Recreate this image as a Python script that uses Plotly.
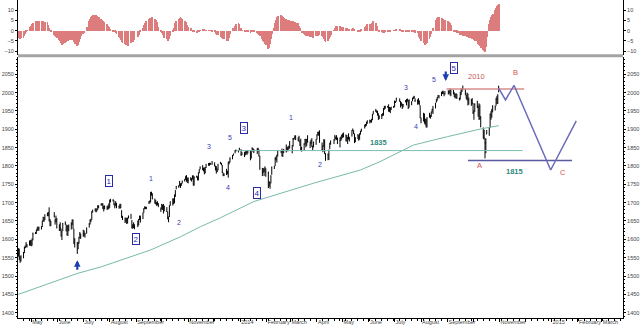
import pandas as pd
import plotly.graph_objects as go

# ---------------- data ----------------
START = "2013-04-16"
END = "2014-10-31"
HOLIDAYS = ["2013-05-27", "2013-07-04", "2013-09-02", "2013-11-28", "2013-12-25",
            "2014-01-01", "2014-01-20", "2014-02-17", "2014-04-18", "2014-05-26",
            "2014-07-04", "2014-09-01"]

CLOSE = [
    1574.6, 1552.0, 1541.6, 1555.3, 1562.5, 1578.8, 1578.8, 1585.2, 1582.2, 1593.6, 1597.6,
    1582.7, 1597.6, 1614.4, 1617.5, 1626.0, 1632.7, 1626.7, 1633.7, 1633.8, 1650.3, 1658.8, 1650.5, 1667.5, 1666.3, 1669.2, 1655.4, 1650.5, 1649.6, 1660.1, 1648.4, 1654.4, 1630.7,
    1640.4, 1631.4, 1608.9, 1622.6, 1643.4, 1642.8, 1626.1, 1612.5, 1636.4, 1626.7, 1639.0, 1651.8, 1628.9, 1588.2, 1592.4, 1573.1, 1588.0, 1603.3, 1613.2, 1606.3,
    1614.1, 1614.1, 1615.4, 1631.9, 1640.5, 1652.3, 1652.6, 1675.0, 1680.2, 1682.5, 1676.3, 1680.9, 1689.4, 1692.1, 1695.5, 1692.4, 1685.9, 1690.3, 1691.7, 1685.3, 1686.0, 1685.7,
    1706.9, 1709.7, 1707.1, 1697.4, 1690.9, 1697.5, 1691.4, 1689.5, 1694.2, 1685.4, 1661.3, 1655.8, 1646.1, 1652.4, 1642.8, 1657.0, 1663.5, 1656.8, 1630.5, 1635.0, 1638.2, 1633.0,
    1639.8, 1653.1, 1655.1, 1655.2, 1671.7, 1684.0, 1689.1, 1683.4, 1688.0, 1697.6, 1704.8, 1725.5, 1722.3, 1709.9, 1701.8, 1697.4, 1692.8, 1698.7, 1691.8, 1681.6,
    1695.0, 1693.9, 1678.7, 1690.5, 1676.1, 1655.5, 1656.4, 1692.6, 1703.2, 1710.1, 1698.1, 1721.5, 1733.2, 1744.5, 1744.7, 1754.7, 1746.4, 1752.1, 1759.8, 1762.1, 1772.0, 1763.3, 1756.5,
    1761.6, 1767.9, 1763.0, 1770.5, 1747.2, 1770.6, 1771.9, 1767.7, 1782.0, 1790.6, 1798.2, 1791.5, 1787.9, 1781.4, 1795.9, 1804.8, 1802.5, 1802.8, 1807.2, 1805.8,
    1800.9, 1795.2, 1792.8, 1785.0, 1805.1, 1808.4, 1802.6, 1782.2, 1775.5, 1775.3, 1786.5, 1781.0, 1810.7, 1809.6, 1818.3, 1828.0, 1833.3, 1842.0, 1841.4, 1841.1, 1848.4,
    1832.0, 1831.4, 1826.8, 1837.9, 1837.5, 1838.1, 1842.4, 1819.2, 1838.9, 1848.4, 1845.9, 1838.7, 1843.8, 1844.9, 1828.5, 1790.3, 1781.6, 1792.5, 1774.2, 1794.2, 1782.6,
    1741.9, 1755.2, 1751.6, 1773.4, 1797.0, 1799.8, 1819.3, 1819.3, 1829.8, 1838.6, 1840.8, 1828.8, 1839.8, 1836.3, 1847.6, 1845.1, 1845.2, 1854.3, 1859.5,
    1845.7, 1873.9, 1873.8, 1877.0, 1878.0, 1877.2, 1867.6, 1868.2, 1846.3, 1841.1, 1858.8, 1872.3, 1860.8, 1872.0, 1866.5, 1857.4, 1865.6, 1852.6, 1849.0, 1857.6, 1872.3,
    1885.5, 1890.9, 1888.8, 1865.1, 1845.0, 1852.0, 1872.2, 1833.1, 1815.7, 1830.6, 1843.0, 1862.3, 1864.9, 1871.9, 1879.6, 1875.4, 1878.6, 1863.4, 1869.4, 1878.3, 1884.0,
    1883.7, 1881.1, 1884.7, 1867.7, 1878.2, 1875.6, 1878.5, 1896.7, 1897.5, 1888.5, 1870.9, 1877.9, 1885.1, 1872.8, 1888.0, 1892.5, 1900.5, 1911.9, 1909.8, 1920.0, 1923.6,
    1925.0, 1924.2, 1927.9, 1940.5, 1949.4, 1951.3, 1950.8, 1943.9, 1930.1, 1936.2, 1937.8, 1942.0, 1957.0, 1959.5, 1962.9, 1962.6, 1950.0, 1959.5, 1957.2, 1961.0, 1960.2,
    1973.3, 1974.6, 1985.4, 1977.7, 1963.7, 1972.8, 1964.7, 1967.6, 1977.1, 1973.3, 1981.6, 1958.1, 1978.2, 1973.6, 1983.5, 1987.0, 1988.0, 1978.3, 1978.9, 1970.0, 1970.1, 1930.7,
    1925.2, 1939.0, 1920.2, 1920.2, 1909.6, 1931.6, 1936.9, 1933.8, 1946.7, 1955.2, 1955.1, 1971.7, 1981.6, 1986.5, 1992.4, 1988.4, 1997.9, 2000.0, 2000.1, 1996.7, 2003.4,
    2002.3, 2000.7, 1997.7, 2007.7, 2001.5, 1988.4, 1995.7, 1997.5, 1985.5, 1984.1, 1999.0, 2001.6, 2011.4, 2010.4, 1994.3, 1982.8, 1998.3, 1966.0, 1982.9, 1977.8, 1972.3,
    1946.2, 1946.2, 1967.9, 1964.8, 1935.1, 1968.9, 1928.2, 1906.1, 1874.7, 1877.7, 1862.5, 1862.8, 1886.8, 1904.0, 1941.3, 1927.1, 1950.8, 1964.6, 1961.6, 1985.1, 1982.3, 1994.7, 2018.1,
]

HIGH = [
    1575.3, 1574.6, 1554.4, 1555.9, 1565.6, 1579.6, 1583.0, 1592.6, 1586.5, 1596.8, 1597.6,
    1597.6, 1602.6, 1618.5, 1619.8, 1626.0, 1632.8, 1635.0, 1633.7, 1636.0, 1651.1, 1661.5, 1660.5, 1667.5, 1672.8, 1674.9, 1687.2, 1655.5, 1649.8, 1674.2, 1656.0, 1664.8, 1658.0,
    1640.4, 1646.5, 1629.3, 1622.6, 1644.4, 1648.7, 1640.4, 1637.7, 1639.3, 1640.4, 1646.5, 1654.2, 1654.2, 1628.9, 1603.3, 1592.4, 1593.8, 1606.7, 1620.1, 1615.9,
    1626.0, 1624.3, 1618.0, 1632.1, 1644.7, 1654.2, 1655.9, 1676.3, 1680.2, 1684.5, 1683.0, 1684.8, 1693.1, 1692.1, 1698.0, 1698.8, 1698.4, 1690.9, 1691.9, 1690.9, 1693.2, 1698.1,
    1707.9, 1709.7, 1709.2, 1706.1, 1697.4, 1704.0, 1699.4, 1692.0, 1696.8, 1696.8, 1679.6, 1664.0, 1659.2, 1658.9, 1658.9, 1659.0, 1664.9, 1669.5, 1652.9, 1641.2, 1646.4, 1641.2,
    1651.4, 1655.7, 1664.8, 1664.6, 1672.4, 1684.1, 1689.1, 1689.0, 1688.0, 1704.0, 1705.5, 1729.4, 1729.9, 1725.5, 1711.2, 1707.6, 1701.7, 1703.9, 1698.7, 1687.1,
    1696.6, 1693.9, 1696.6, 1691.0, 1687.8, 1676.1, 1662.4, 1692.6, 1703.4, 1711.0, 1711.7, 1721.8, 1733.5, 1745.3, 1747.8, 1759.3, 1752.7, 1753.7, 1759.8, 1764.9, 1772.0, 1775.2, 1768.5,
    1768.8, 1768.8, 1767.0, 1774.5, 1774.5, 1771.3, 1773.4, 1771.8, 1782.0, 1791.0, 1798.2, 1802.3, 1795.5, 1795.8, 1797.2, 1804.8, 1808.4, 1808.4, 1808.4, 1813.6,
    1810.0, 1800.9, 1799.8, 1792.8, 1805.1, 1811.5, 1808.4, 1802.8, 1782.0, 1780.0, 1792.2, 1786.8, 1811.0, 1813.7, 1823.8, 1829.8, 1833.3, 1842.8, 1844.9, 1842.5, 1849.4,
    1845.9, 1838.2, 1837.8, 1840.1, 1840.0, 1843.2, 1843.2, 1843.5, 1839.3, 1850.8, 1848.3, 1846.5, 1849.3, 1849.6, 1844.9, 1827.7, 1795.0, 1793.9, 1792.5, 1798.8, 1793.9,
    1784.8, 1758.7, 1755.8, 1774.1, 1798.0, 1800.0, 1823.5, 1826.2, 1830.0, 1841.7, 1842.9, 1847.5, 1842.9, 1846.7, 1858.7, 1852.7, 1852.7, 1854.5, 1867.9,
    1857.2, 1876.2, 1876.5, 1883.6, 1883.6, 1877.9, 1882.4, 1868.4, 1874.4, 1852.4, 1862.3, 1873.8, 1874.1, 1873.5, 1883.9, 1866.6, 1871.9, 1875.9, 1855.6, 1866.6, 1873.0,
    1885.8, 1893.2, 1893.8, 1897.3, 1864.0, 1856.4, 1872.3, 1872.5, 1835.1, 1834.2, 1844.5, 1862.3, 1869.6, 1872.5, 1884.9, 1879.8, 1884.1, 1877.7, 1877.7, 1880.0, 1885.2,
    1888.6, 1891.3, 1885.0, 1884.4, 1878.8, 1889.1, 1878.6, 1897.1, 1902.2, 1897.5, 1888.5, 1878.0, 1886.0, 1885.4, 1888.8, 1896.3, 1901.3, 1912.3, 1914.5, 1920.0, 1924.0,
    1925.9, 1925.1, 1927.9, 1941.7, 1949.4, 1955.6, 1950.9, 1950.8, 1943.9, 1937.3, 1941.7, 1944.0, 1957.7, 1963.9, 1963.9, 1963.7, 1968.2, 1960.8, 1959.9, 1961.0, 1964.0,
    1978.6, 1976.7, 1985.6, 1984.2, 1977.1, 1972.9, 1969.8, 1968.7, 1979.8, 1982.5, 1983.9, 1979.8, 1981.8, 1976.4, 1986.2, 1989.2, 1991.4, 1984.6, 1981.5, 1984.9, 1978.9, 1965.1,
    1932.4, 1945.0, 1942.9, 1928.9, 1928.9, 1932.4, 1944.9, 1939.6, 1948.4, 1955.2, 1964.0, 1971.7, 1982.0, 1988.4, 1993.1, 1993.5, 2002.0, 2005.0, 2005.0, 1998.6, 2003.4,
    2006.1, 2006.0, 2011.2, 2007.7, 2007.7, 2001.0, 1996.0, 1997.7, 1996.7, 1986.4, 2002.3, 2010.7, 2012.3, 2019.3, 2010.3, 1994.3, 1999.8, 1997.3, 1986.4, 1982.6, 1985.2,
    1971.2, 1952.3, 1971.0, 1977.8, 1963.9, 1970.4, 1967.7, 1936.0, 1905.0, 1898.7, 1874.1, 1876.0, 1898.1, 1905.0, 1942.5, 1949.3, 1955.8, 1965.3, 1964.6, 1985.2, 1991.4, 1995.0, 2018.2,
]

LOW = [
    1552.9, 1543.5, 1536.0, 1539.5, 1548.2, 1562.5, 1575.8, 1578.9, 1577.6, 1582.8, 1582.8,
    1581.3, 1582.7, 1597.6, 1614.4, 1614.8, 1622.4, 1623.7, 1623.6, 1626.7, 1633.8, 1648.6, 1648.1, 1652.5, 1663.2, 1662.6, 1648.6, 1635.5, 1636.0, 1660.1, 1640.1, 1646.7, 1630.3,
    1622.7, 1623.0, 1608.1, 1598.2, 1622.7, 1639.3, 1621.4, 1610.9, 1609.0, 1622.2, 1626.7, 1639.0, 1628.9, 1588.2, 1577.7, 1560.3, 1573.1, 1588.0, 1603.3, 1601.1,
    1606.8, 1608.1, 1604.6, 1615.4, 1631.9, 1640.5, 1646.7, 1653.1, 1672.7, 1676.3, 1673.5, 1676.3, 1680.9, 1684.8, 1692.1, 1692.1, 1682.6, 1676.0, 1681.9, 1679.9, 1681.9, 1682.2,
    1685.7, 1700.7, 1703.1, 1693.4, 1684.6, 1690.9, 1684.8, 1683.4, 1684.8, 1684.7, 1658.6, 1652.6, 1645.7, 1645.3, 1642.1, 1643.0, 1656.9, 1656.7, 1630.5, 1628.9, 1630.9, 1627.5,
    1633.4, 1637.8, 1652.7, 1645.8, 1655.2, 1672.0, 1682.2, 1682.9, 1682.1, 1697.6, 1697.6, 1700.7, 1719.1, 1709.6, 1697.1, 1695.4, 1691.9, 1692.8, 1687.8, 1674.7,
    1681.6, 1680.3, 1670.4, 1676.3, 1674.9, 1655.5, 1646.5, 1660.9, 1691.4, 1692.1, 1695.6, 1698.3, 1715.5, 1736.3, 1740.5, 1744.7, 1740.3, 1745.8, 1752.0, 1757.6, 1762.1, 1757.2, 1754.3,
    1752.7, 1760.7, 1757.6, 1763.2, 1747.2, 1746.2, 1767.8, 1760.6, 1760.6, 1780.2, 1790.6, 1788.4, 1785.2, 1777.2, 1780.0, 1794.7, 1800.6, 1800.9, 1802.9, 1803.3,
    1798.8, 1787.9, 1779.1, 1783.4, 1788.1, 1805.1, 1802.3, 1780.6, 1772.3, 1772.3, 1775.3, 1777.2, 1768.0, 1804.6, 1809.6, 1818.3, 1828.0, 1834.4, 1839.8, 1836.8, 1842.4,
    1827.7, 1829.1, 1824.2, 1828.7, 1832.4, 1830.2, 1834.1, 1815.5, 1820.3, 1839.0, 1842.2, 1835.2, 1832.4, 1839.7, 1825.6, 1790.3, 1772.3, 1781.6, 1773.6, 1783.8, 1770.5,
    1739.7, 1743.8, 1737.9, 1752.7, 1776.0, 1791.8, 1800.0, 1815.2, 1809.2, 1825.6, 1835.0, 1826.0, 1824.6, 1835.6, 1836.8, 1840.2, 1840.2, 1845.8, 1847.7,
    1834.4, 1853.0, 1871.4, 1874.6, 1870.6, 1867.4, 1867.0, 1854.4, 1841.9, 1839.6, 1841.1, 1858.9, 1850.8, 1854.6, 1863.5, 1848.8, 1859.1, 1852.4, 1842.1, 1850.4, 1857.6,
    1872.3, 1882.7, 1882.7, 1863.3, 1841.5, 1837.5, 1852.4, 1833.1, 1814.4, 1815.8, 1816.3, 1846.2, 1858.0, 1859.7, 1869.3, 1873.3, 1870.8, 1859.7, 1850.6, 1867.9, 1872.1,
    1877.0, 1877.9, 1866.8, 1867.7, 1859.8, 1872.0, 1867.0, 1880.0, 1894.9, 1886.7, 1862.4, 1864.8, 1873.5, 1868.8, 1871.9, 1885.4, 1893.0, 1902.2, 1906.9, 1909.8, 1915.0,
    1915.9, 1918.6, 1918.2, 1924.8, 1940.5, 1947.2, 1944.7, 1937.3, 1925.8, 1927.6, 1928.2, 1935.9, 1937.4, 1953.3, 1955.8, 1958.4, 1948.3, 1947.5, 1944.1, 1952.4, 1958.1,
    1960.2, 1971.7, 1975.7, 1975.0, 1959.5, 1964.2, 1955.6, 1959.6, 1973.3, 1965.3, 1975.4, 1955.6, 1958.9, 1965.6, 1976.4, 1982.4, 1984.0, 1974.5, 1966.9, 1969.8, 1965.1, 1930.7,
    1916.4, 1921.3, 1915.6, 1911.5, 1904.8, 1904.8, 1931.6, 1928.9, 1933.8, 1945.9, 1941.7, 1956.9, 1973.0, 1977.9, 1987.0, 1984.1, 1990.5, 1996.0, 1996.4, 1990.1, 1994.7,
    1994.9, 1998.1, 1992.4, 1990.1, 1995.0, 1988.0, 1984.0, 1985.3, 1983.0, 1978.5, 1981.0, 1993.2, 2002.0, 2006.6, 1993.0, 1982.8, 1978.6, 1965.9, 1967.3, 1964.0, 1968.0,
    1941.7, 1926.0, 1947.5, 1958.0, 1934.9, 1925.3, 1927.6, 1906.1, 1874.7, 1871.8, 1820.7, 1835.0, 1886.8, 1882.3, 1904.0, 1927.1, 1931.7, 1946.3, 1951.4, 1964.1, 1969.0, 1969.1, 2001.0,
]

OSC = [
    -3.2, -3.6, -4.0, -3.8, -3.4, -2.8, -1.5, -0.3, 0.3, 1.0, 1.6,
    2.3, 3.0, 3.8, 4.3, 4.5, 4.4, 4.5, 4.6, 4.5, 4.3, 4.5, 4.4, 4.3, 4.0, 2.8, 1.4, 0.2, -0.8, -2.0, -2.6, -3.2, -3.8,
    -4.4, -5.0, -6.2, -7.0, -6.6, -5.8, -5.3, -5.0, -4.8, -4.6, -4.5, -4.4, -4.5, -5.6, -6.6, -7.5, -7.0, -5.6, -4.2, -2.8,
    -1.8, -1.0, 0.0, 2.0, 4.5, 5.6, 6.6, 7.3, 7.7, 7.8, 7.4, 7.0, 6.7, 6.4, 5.8, 5.3, 4.8, 4.3, 3.8, 3.0, 2.4, 1.7,
    1.0, 0.5, -0.2, -0.6, -0.8, -1.0, -1.8, -3.2, -3.8, -4.6, -5.3, -5.8, -6.4, -6.8, -7.1, -7.3, -7.0, -6.0, -5.7, -5.3, -5.0, -4.4,
    -3.0, -2.2, -1.2, -0.2, 1.5, 2.6, 3.5, 4.2, 4.8, 5.6, 6.0, 6.3, 6.5, 6.5, 5.8, 5.0, 4.0, 2.8, 1.6, -0.3,
    -1.2, -2.0, -2.8, -3.5, -4.3, -4.8, -5.0, -4.2, -2.8, -0.3, 1.2, 2.6, 3.8, 4.8, 5.8, 6.2, 6.5, 6.3, 5.9, 4.9, 4.2, 3.4, 2.6,
    2.0, 1.2, 0.7, 0.3, -0.2, -0.6, -1.0, -0.8, -0.5, -0.2, 0.1, 0.4, 0.5, 0.5, 0.3, 0.2, 0.1, 0.0, -0.1, -0.2,
    -0.8, -1.3, -1.7, -2.0, -2.3, -2.9, -3.3, -3.7, -4.0, -4.2, -4.6, -4.8, -5.0, -3.5, -1.8, 0.2, 1.2, 2.3, 3.0, 3.5, 3.2,
    1.5, 0.2, -0.5, -0.6, -0.7, -0.8, -0.7, -1.0, -0.8, -0.6, -0.7, -0.8, -1.0, -1.6, -2.2, -2.8, -4.0, -4.8, -5.6, -6.4, -7.2,
    -9.0, -8.5, -6.5, -4.0, -1.5, 1.5, 3.5, 5.2, 6.5, 7.3, 7.5, 7.0, 6.5, 6.0, 5.7, 5.4, 5.2, 5.0, 4.9,
    4.7, 4.5, 4.4, 4.2, 3.9, 3.5, 2.5, 1.2, 0.0, -1.0, -1.8, -2.2, -2.4, -2.5, -2.7, -2.9, -3.1, -3.3, -3.5, -3.2, -2.8,
    -2.6, -2.4, -2.2, -2.0, -2.6, -3.2, -4.0, -4.8, -5.5, -5.0, -4.0, -3.0, -2.0, 0.3, 1.5, 2.5, 2.4, 2.3, 2.1, 2.0, 1.9,
    1.8, 1.7, 1.5, 1.2, 0.8, 0.5, 0.7, 1.0, 1.3, 1.0, 0.5, 0.0, -0.4, -0.5, -0.5, -0.3, 0.5, 1.6, 2.2, 2.7, 3.0,
    3.2, 3.3, 3.4, 3.6, 4.5, 3.6, 2.4, 1.2, 0.1, -0.5, -0.8, -0.9, -1.0, -0.9, -0.8, -0.7, -0.6, -0.4, -0.2, 0.0, 0.2,
    0.3, 0.4, 0.5, 0.5, 0.3, 0.1, -0.2, -0.4, -0.5, -0.6, -0.5, -0.7, -0.6, -0.7, -0.6, -0.7, -0.8, -0.9, -1.2, -2.0, -3.0, -4.2,
    -5.0, -6.2, -6.7, -7.0, -6.6, -5.8, -4.2, -3.0, -1.5, 0.0, 1.5, 4.0, 5.2, 6.3, 6.5, 6.5, 6.3, 6.0, 5.7, 5.4, 5.1,
    4.8, 4.2, 3.5, 2.7, 0.3, -0.2, -0.5, -0.7, -0.9, -1.1, -2.0, -2.2, -2.3, -2.4, -2.6, -2.8, -3.0, -3.3, -3.5, -3.8, -4.0,
    -4.2, -4.5, -4.8, -5.0, -6.5, -6.8, -7.5, -8.2, -9.2, -10.0, -10.5, -8.0, -3.0, 3.0, 5.0, 6.5, 7.5, 8.0, 10.0, 11.0, 11.8, 12.4, 13.0,
]

MA_DATES = ["2013-04-16", "2013-06-24", "2013-07-22", "2013-09-18", "2013-10-23", "2013-11-15",
            "2013-12-09", "2014-01-17", "2014-03-28", "2014-05-22", "2014-06-14", "2014-07-08",
            "2014-07-23", "2014-09-01", "2014-10-10", "2014-10-31"]
MA_VALUES = [1450, 1507, 1525, 1571, 1607, 1634, 1659, 1703, 1753, 1789, 1812, 1841, 1857, 1880, 1901, 1910]

PATH_DATES = ["2014-10-31", "2014-11-08", "2014-11-18", "2014-12-31", "2015-01-30"]
PATH_VALUES = [2012, 1980, 2020, 1789, 1923]

LEVEL_VALUES = [1842, 2010, 1815]
LEVEL_START = ["2013-12-28", "2014-08-31", "2014-09-25"]
LEVEL_END = ["2014-11-28", "2014-11-30", "2015-01-25"]
LEVEL_COLORS = ["#7dbdb0", "#d98c8c", "#5a5aa0"]

LABEL_TEXT = ["1", "2", "1", "2", "3", "4", "5", "3", "4", "1", "2", "3", "4", "5", "5",
              "1835", "2010", "1815", "A", "B", "C"]
LABEL_KIND = ["box", "box", "num", "num", "num", "num", "num", "box", "box", "num", "num", "num", "num", "num", "box",
              "teal", "redlvl", "teal", "red", "red", "red"]
LABEL_DATES = ["2013-07-31", "2013-09-01", "2013-09-18", "2013-10-21", "2013-11-25", "2013-12-18", "2013-12-20",
               "2014-01-06", "2014-01-21", "2014-03-02", "2014-04-05", "2014-07-14", "2014-07-26", "2014-08-16",
               "2014-09-09", "2014-06-12", "2014-10-05", "2014-11-19", "2014-10-08", "2014-11-20", "2015-01-14"]
LABEL_VALUES = [1759, 1601, 1767, 1645, 1854, 1740, 1879, 1904, 1726, 1931, 1805, 2013, 1909, 2037, 2067,
                1865, 2045, 1786, 1800, 2056, 1783]

ARROW_DATES = ["2013-06-24", "2014-08-30"]
ARROW_VALUES = [1543, 2032]
ARROW_DIR = ["up", "down"]

MONTH_TICKS = ["2013-05-01", "2013-06-01", "2013-07-01", "2013-08-01", "2013-09-01", "2013-10-01",
               "2013-11-01", "2013-12-01", "2014-01-01", "2014-02-01", "2014-03-01", "2014-04-01",
               "2014-05-01", "2014-06-01", "2014-07-01", "2014-08-01", "2014-09-01", "2014-10-01",
               "2014-11-01", "2014-12-01", "2015-01-01", "2015-02-01", "2015-03-01"]
MONTH_LABELS = ["May", "June", "July", "August", "September", "", "November", "", "2014", "February",
                "March", "April", "May", "June", "July", "August", "September", "", "November", "",
                "2015", "February", "March"]

X_RANGE = ["2013-04-15 12:00", "2015-03-25 19:00"]
PRICE_RANGE = [1385.5, 2098.5]
OSC_RANGE = [-12.0, 14.9]

# ---------------- figure ----------------
dates = pd.bdate_range(START, END, freq="C", holidays=HOLIDAYS)
assert len(dates) == len(CLOSE) == len(HIGH) == len(LOW) == len(OSC), (
    len(dates), len(CLOSE), len(HIGH), len(LOW), len(OSC))

FONT = "Liberation Sans, Arial, sans-serif"
fig = go.Figure()

fig.add_trace(go.Bar(x=dates, y=OSC, xaxis="x2", yaxis="y2",
                     marker=dict(color="#dc7c7c", line=dict(width=0)),
                     hoverinfo="skip", showlegend=False))

fig.add_trace(go.Scatter(x=MA_DATES, y=MA_VALUES, mode="lines",
                         line=dict(color="#79b9aa", width=1), hoverinfo="skip", showlegend=False))

for v, s, e, c in zip(LEVEL_VALUES, LEVEL_START, LEVEL_END, LEVEL_COLORS):
    fig.add_trace(go.Scatter(x=[s, e], y=[v, v], mode="lines",
                             line=dict(color=c, width=1.4 if c != "#7dbdb0" else 1),
                             hoverinfo="skip", showlegend=False))

fig.add_trace(go.Ohlc(x=dates, open=CLOSE, high=HIGH, low=LOW, close=CLOSE,
                      increasing=dict(line=dict(color="black", width=1)),
                      decreasing=dict(line=dict(color="black", width=1)),
                      tickwidth=0.3, hoverinfo="skip", showlegend=False))

fig.add_trace(go.Scatter(x=PATH_DATES, y=PATH_VALUES, mode="lines",
                         line=dict(color="#6b6bbb", width=1.5), hoverinfo="skip", showlegend=False))

# invisible helpers so the right-hand axes are drawn
fig.add_trace(go.Scatter(x=[MA_DATES[0]], y=[MA_VALUES[0]], xaxis="x", yaxis="y3", mode="markers",
                         marker=dict(opacity=0), hoverinfo="skip", showlegend=False))
fig.add_trace(go.Scatter(x=[MA_DATES[0]], y=[0], xaxis="x2", yaxis="y4", mode="markers",
                         marker=dict(opacity=0), hoverinfo="skip", showlegend=False))

annotations = []
for t, k, d, v in zip(LABEL_TEXT, LABEL_KIND, LABEL_DATES, LABEL_VALUES):
    a = dict(x=d, y=v, xref="x", yref="y", text=t, showarrow=False)
    if k == "box":
        a.update(font=dict(family=FONT, size=8, color="#2a2aa8"), bordercolor="#2a2aa8",
                 borderwidth=1, borderpad=0.5, bgcolor="white")
    elif k == "num":
        a.update(font=dict(family=FONT, size=7, color="#3c3cb4"))
    elif k == "teal":
        a.update(text="<b>%s</b>" % t, font=dict(family=FONT, size=7.5, color="#2f8a7c"))
    elif k == "redlvl":
        a.update(font=dict(family=FONT, size=7.5, color="#c85a5a"))
    else:
        a.update(font=dict(family=FONT, size=7.5, color="#d85050"))
    annotations.append(a)

for d, v, dr in zip(ARROW_DATES, ARROW_VALUES, ARROW_DIR):
    annotations.append(dict(x=d, y=v, xref="x", yref="y", text="", showarrow=True,
                            arrowhead=2, arrowsize=0.6, arrowwidth=2.2, arrowcolor="#1f3fb0",
                            ax=0, ay=11 if dr == "up" else -11))

tickfont = dict(family=FONT, size=5.5, color="#444")
MAIN_TOP = 0.8223
yax_common = dict(showgrid=False, zeroline=False, showline=True, linecolor="black", linewidth=1,
                  ticks="outside", ticklen=2, tickcolor="black", tickfont=tickfont, automargin=False)

fig.update_layout(
    width=640, height=326, autosize=False,
    margin=dict(l=18, r=17, t=0, b=8, pad=0),
    paper_bgcolor="white", plot_bgcolor="white",
    bargap=0, showlegend=False,
    annotations=annotations,
    xaxis=dict(type="date", range=X_RANGE, domain=[0, 1], anchor="y",
               rangeslider=dict(visible=False),
               tickmode="array", tickvals=MONTH_TICKS, ticktext=MONTH_LABELS,
               ticklabelposition="outside right", tickangle=0, tickfont=tickfont,
               ticklabelstandoff=-2,
               ticks="outside", ticklen=2.5, tickcolor="black",
               minor=dict(ticks="outside", ticklen=2, tickcolor="black",
                          dtick=7 * 86400000, tick0="2013-04-15"),
               showline=True, linecolor="black", linewidth=1,
               showgrid=False, zeroline=False, automargin=False),
    xaxis2=dict(type="date", matches="x", domain=[0, 1], anchor="y2",
                showticklabels=False, ticks="", showline=False, showgrid=False, zeroline=False,
                rangeslider=dict(visible=False), automargin=False),
    yaxis=dict(domain=[0, MAIN_TOP], range=PRICE_RANGE, anchor="x", side="left",
               dtick=50, tick0=0, minor=dict(ticks="outside", ticklen=1, dtick=10, tickcolor="black"),
               **yax_common),
    yaxis3=dict(range=PRICE_RANGE, overlaying="y", anchor="x", side="right",
                dtick=50, tick0=0, minor=dict(ticks="outside", ticklen=1, dtick=10, tickcolor="black"),
                **yax_common),
    yaxis2=dict(domain=[0.826, 1], range=OSC_RANGE, anchor="x2", side="left",
                dtick=5, tick0=0, **yax_common),
    yaxis4=dict(range=OSC_RANGE, overlaying="y2", anchor="x2", side="right",
                dtick=5, tick0=0, **yax_common),
    shapes=[dict(type="line", xref="paper", yref="paper", x0=0, x1=1, y0=0.8245, y1=0.8245,
                 line=dict(color="#a4a4a4", width=3))],
)

fig.write_html("out.html", config={"displayModeBar": False})
